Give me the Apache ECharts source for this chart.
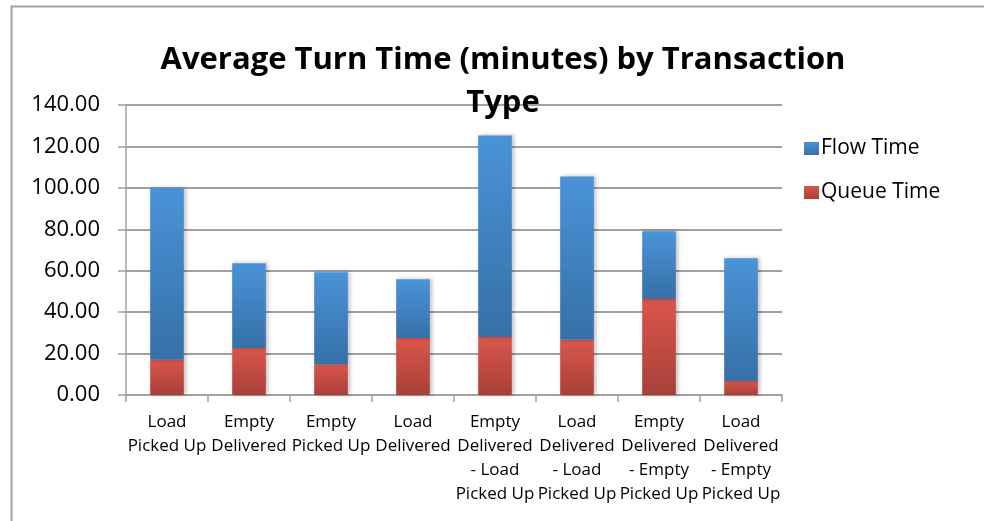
<!DOCTYPE html>
<html>
<head>
<meta charset="utf-8">
<script src="https://cdn.jsdelivr.net/npm/echarts@6/dist/echarts.min.js"></script>
<style>
  html, body { margin: 0; padding: 0; background: #fff; overflow: hidden; }
  #main { width: 984px; height: 521px; }
</style>
</head>
<body>
<div id="main"></div>
<script>
// 类别
const categories = [
  "Load\nPicked Up",
  "Empty\nDelivered",
  "Empty\nPicked Up",
  "Load\nDelivered",
  "Empty\nDelivered\n- Load\nPicked Up",
  "Load\nDelivered\n- Load\nPicked Up",
  "Empty\nDelivered\n- Empty\nPicked Up",
  "Load\nDelivered\n- Empty\nPicked Up"
];
// 排队时间
const queueTime = [17.0, 22.7, 14.9, 27.5, 28.0, 26.7, 46.3, 6.7];
// 流转时间
const flowTime = [83.0, 40.9, 44.4, 28.4, 97.3, 78.8, 32.7, 59.3];

const font = "Open Sans";

const blueGrad = new echarts.graphic.LinearGradient(0, 0, 0, 1, [
  { offset: 0, color: "#4a93d8" },
  { offset: 1, color: "#3670a8" }
]);
const redGrad = new echarts.graphic.LinearGradient(0, 0, 0, 1, [
  { offset: 0, color: "#db554b" },
  { offset: 1, color: "#a8403a" }
]);

const option = {
  animation: false,
  backgroundColor: "#fff",
  // 外框（只有左边和上边）
  graphic: [
    {
      type: "polyline",
      shape: { points: [[11.5, 530], [11.5, 6.5], [990, 6.5]] },
      style: { fill: "none", stroke: "#a0a0a0", lineWidth: 2 },
      silent: true
    }
  ],
  title: {
    text: "Average Turn Time (minutes) by Transaction\nType",
    left: 498,
    textAlign: "center",
    top: 34,
    textStyle: {
      fontFamily: font,
      fontWeight: "bold",
      fontSize: 31,
      lineHeight: 43,
      color: "#000"
    }
  },
  legend: {
    orient: "vertical",
    left: 799,
    top: 133,
    itemWidth: 15,
    itemHeight: 13,
    itemGap: 23,
    icon: "rect",
    data: ["Flow Time", "Queue Time"],
    textStyle: { fontFamily: font, fontSize: 21, color: "#000", padding: [0, 0, 0, -3] }
  },
  grid: {
    left: 126,
    right: 202,
    top: 105,
    bottom: 126
  },
  xAxis: {
    type: "category",
    data: categories,
    boundaryGap: true,
    axisLine: { lineStyle: { color: "#a0a0a0", width: 1.5 } },
    axisTick: { show: true, length: 7, lineStyle: { color: "#a0a0a0", width: 1.5 } },
    axisLabel: {
      interval: 0,
      margin: 15,
      fontFamily: font,
      fontSize: 17,
      lineHeight: 24,
      color: "#000"
    }
  },
  yAxis: {
    type: "value",
    min: 0,
    max: 140,
    interval: 20,
    axisLine: { show: true, lineStyle: { color: "#a0a0a0", width: 1.5 } },
    axisTick: { show: true, length: 8, lineStyle: { color: "#a0a0a0", width: 1.5 } },
    splitLine: { lineStyle: { color: "#a0a0a0", width: 2 } },
    axisLabel: {
      margin: 26,
      fontFamily: font,
      fontSize: 22,
      color: "#000",
      formatter: (v) => v.toFixed(2)
    }
  },
  series: [
    {
      name: "Queue Time",
      type: "bar",
      stack: "total",
      barWidth: "41%",
      data: queueTime,
      itemStyle: {
        color: redGrad,
        shadowColor: "rgba(0,0,0,0.25)",
        shadowBlur: 4,
        shadowOffsetX: 2
      }
    },
    {
      name: "Flow Time",
      type: "bar",
      stack: "total",
      barWidth: "41%",
      data: flowTime,
      itemStyle: {
        color: blueGrad,
        shadowColor: "rgba(0,0,0,0.25)",
        shadowBlur: 4,
        shadowOffsetX: 2
      }
    }
  ]
};

const myChart = echarts.init(document.getElementById("main"));
myChart.setOption(option);
</script>
</body>
</html>
